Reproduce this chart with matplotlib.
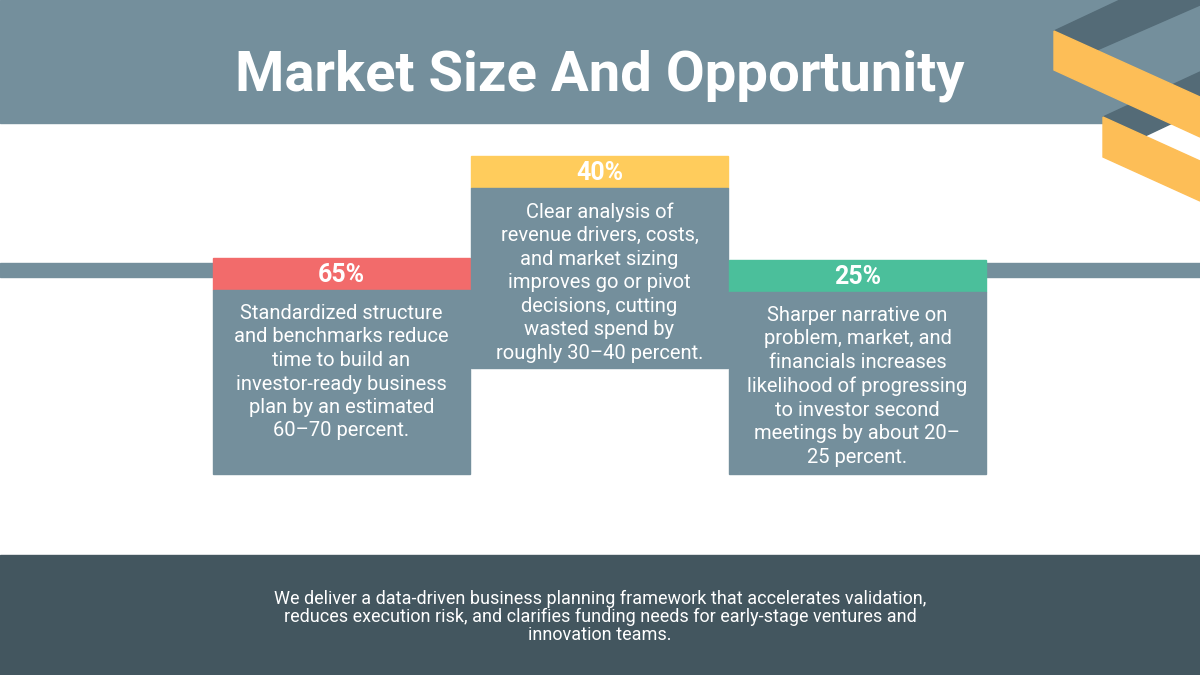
import matplotlib
matplotlib.use("Agg")
import matplotlib.pyplot as plt
from matplotlib.patches import Rectangle, Polygon

title = "Market Size And Opportunity"
percents = ["65%", "40%", "25%"]
descs = [
    "Standardized structure\nand benchmarks reduce\ntime to build an\ninvestor-ready business\nplan by an estimated\n60–70 percent.",
    "Clear analysis of\nrevenue drivers, costs,\nand market sizing\nimproves go or pivot\ndecisions, cutting\nwasted spend by\nroughly 30–40 percent.",
    "Sharper narrative on\nproblem, market, and\nfinancials increases\nlikelihood of progressing\nto investor second\nmeetings by about 20–\n25 percent.",
]
header_colors = ["#F26B6B", "#FFCC5C", "#4BBF9B"]
footer = ("We deliver a data-driven business planning framework that accelerates validation,\n"
          "reduces execution risk, and clarifies funding needs for early-stage ventures and\n"
          "innovation teams.")

boxes = [(213, 258, 474), (471, 156, 368), (729, 260, 474)]
BW, HH = 257, 32
SLATE = "#748F9C"

fig = plt.figure(figsize=(12, 6.75), dpi=100)
ax = fig.add_axes([0, 0, 1, 1])
ax.set_xlim(0, 1200); ax.set_ylim(675, 0); ax.axis("off")
plt.rcParams['font.family'] = ['Roboto', 'DejaVu Sans']

ax.add_patch(Rectangle((0, 0), 1200, 675, color="white", zorder=0))
ax.add_patch(Rectangle((0, 0), 1200, 123, color=SLATE, zorder=1))
ax.add_patch(Rectangle((0, 263), 1200, 14, color=SLATE, zorder=1))
ax.add_patch(Rectangle((0, 555), 1200, 120, color="#43565F", zorder=1))

dark = "#546B77"; yel = "#FDBE57"
ax.add_patch(Polygon([(1054, 31), (1120, 0), (1200, 0), (1200, 5), (1097, 50)], color=dark, zorder=2))
ax.add_patch(Polygon([(1054, 31), (1200, 97), (1200, 137), (1054, 70)], color=yel, zorder=3))
ax.add_patch(Polygon([(1103, 117), (1200, 72), (1200, 110), (1145, 136)], color=dark, zorder=2))
ax.add_patch(Polygon([(1103, 117), (1200, 161), (1200, 201), (1103, 157)], color=yel, zorder=3))

ax.text(600, 76, title, color="white", fontsize=40.5, fontweight="bold", ha="center", va="center", zorder=5)

for (x, top, bot), p, d, c in zip(boxes, percents, descs, header_colors):
    ax.add_patch(Rectangle((x, top), BW, HH, color=c, zorder=3))
    ax.add_patch(Rectangle((x, top + HH), BW, bot - top - HH, color=SLATE, zorder=3))
    ax.text(x + BW / 2, top + HH / 2 + 1, p, color="white", fontsize=18, fontweight="bold",
            ha="center", va="center", zorder=5)
    ax.text(x + BW / 2, top + HH + 14, d, color="white", fontsize=14.5, ha="center", va="top",
            linespacing=1.3, zorder=5)

ax.text(600, 617, footer, color="white", fontsize=13, ha="center", va="center", linespacing=1.0, zorder=5)

fig.savefig("out.png", dpi=100)
